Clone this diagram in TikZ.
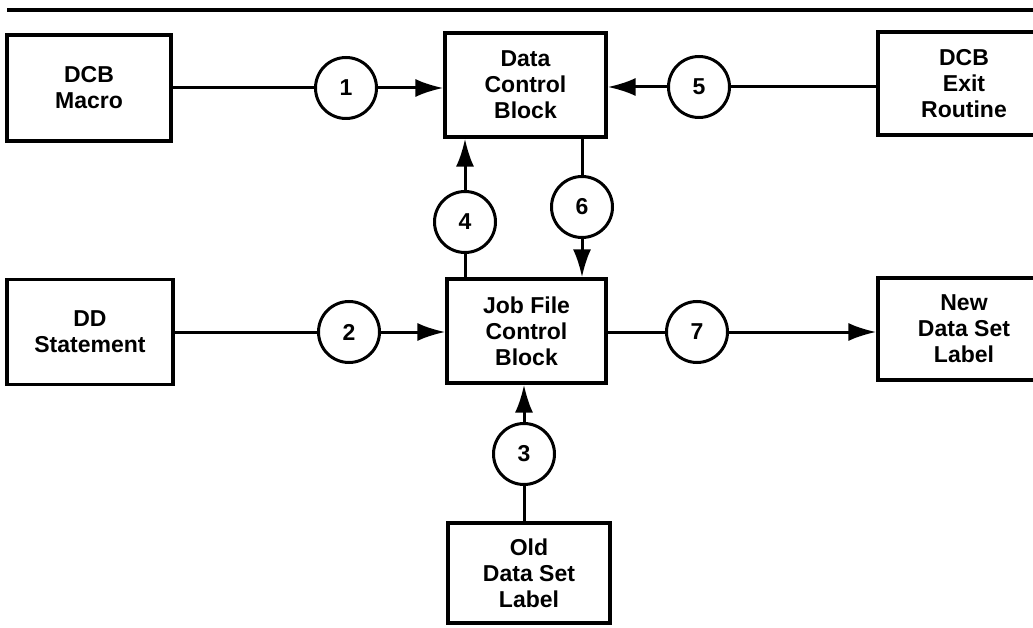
\documentclass[tikz,border=0pt]{standalone}
\usepackage{fontspec}
\setmainfont{Liberation Sans}
\usetikzlibrary{arrows.meta}
\tikzset{
  box/.style={draw, line width=3.2pt, align=center, inner sep=0pt,
    font=\fontsize{23}{26}\selectfont\bfseries},
  num/.style={draw, circle, line width=3pt, minimum size=61pt, inner sep=0pt,
    font=\fontsize{23}{26}\selectfont\bfseries},
  conn/.style={line width=3pt},
  flow/.style={line width=3pt, -{Latex[length=28pt,width=18pt]}}
}
\begin{document}
\begin{tikzpicture}[x=1pt,y=-1pt]
\useasboundingbox (0,0) rectangle (1033,628);
\clip (0,0) rectangle (1033,628);
\draw[line width=3.5pt] (7,10) -- (1040,10);
% boxes
\node[box, minimum width=164pt, minimum height=106pt] (macro) at (89,88) {DCB\\Macro};
\node[box, minimum width=161pt, minimum height=104pt] (dcb) at (525.5,85) {Data\\Control\\Block};
\node[box, minimum width=172pt, minimum height=103pt] (exit) at (964,83.5) {DCB\\Exit\\Routine};
\node[box, minimum width=166pt, minimum height=105pt] (dd) at (90,332) {DD\\Statement};
\node[box, minimum width=159pt, minimum height=104pt] (jfcb) at (526.5,331) {Job File\\Control\\Block};
\node[box, minimum width=172pt, minimum height=102pt] (new) at (964,329) {New\\Data Set\\Label};
\node[box, minimum width=162pt, minimum height=100pt] (old) at (529,573) {Old\\Data Set\\Label};
% circles
\node[num] (c1) at (346,88) {1};
\node[num] (c5) at (699,87) {5};
\node[num] (c4) at (465,222) {4};
\node[num] (c6) at (582,207) {6};
\node[num] (c2) at (349,332) {2};
\node[num] (c7) at (697,332) {7};
\node[num] (c3) at (524,454) {3};
% connectors
\draw[conn] (macro.east |- c1) -- (c1.west);
\draw[flow] (c1.east) -- (c1 -| dcb.west);
\draw[conn] (exit.west |- c5) -- (c5.east);
\draw[flow] (c5.west) -- (c5 -| dcb.east);
\draw[conn] (c4 |- jfcb.north) -- (c4.south);
\draw[flow] (c4.north) -- (c4 |- dcb.south);
\draw[conn] (c6 |- dcb.south) -- (c6.north);
\draw[flow] (c6.south) -- (c6 |- jfcb.north);
\draw[conn] (dd.east |- c2) -- (c2.west);
\draw[flow] (c2.east) -- (c2 -| jfcb.west);
\draw[conn] (jfcb.east |- c7) -- (c7.west);
\draw[flow] (c7.east) -- (c7 -| new.west);
\draw[conn] (c3 |- old.north) -- (c3.south);
\draw[flow] (c3.north) -- (c3 |- jfcb.south);
\end{tikzpicture}
\end{document}
